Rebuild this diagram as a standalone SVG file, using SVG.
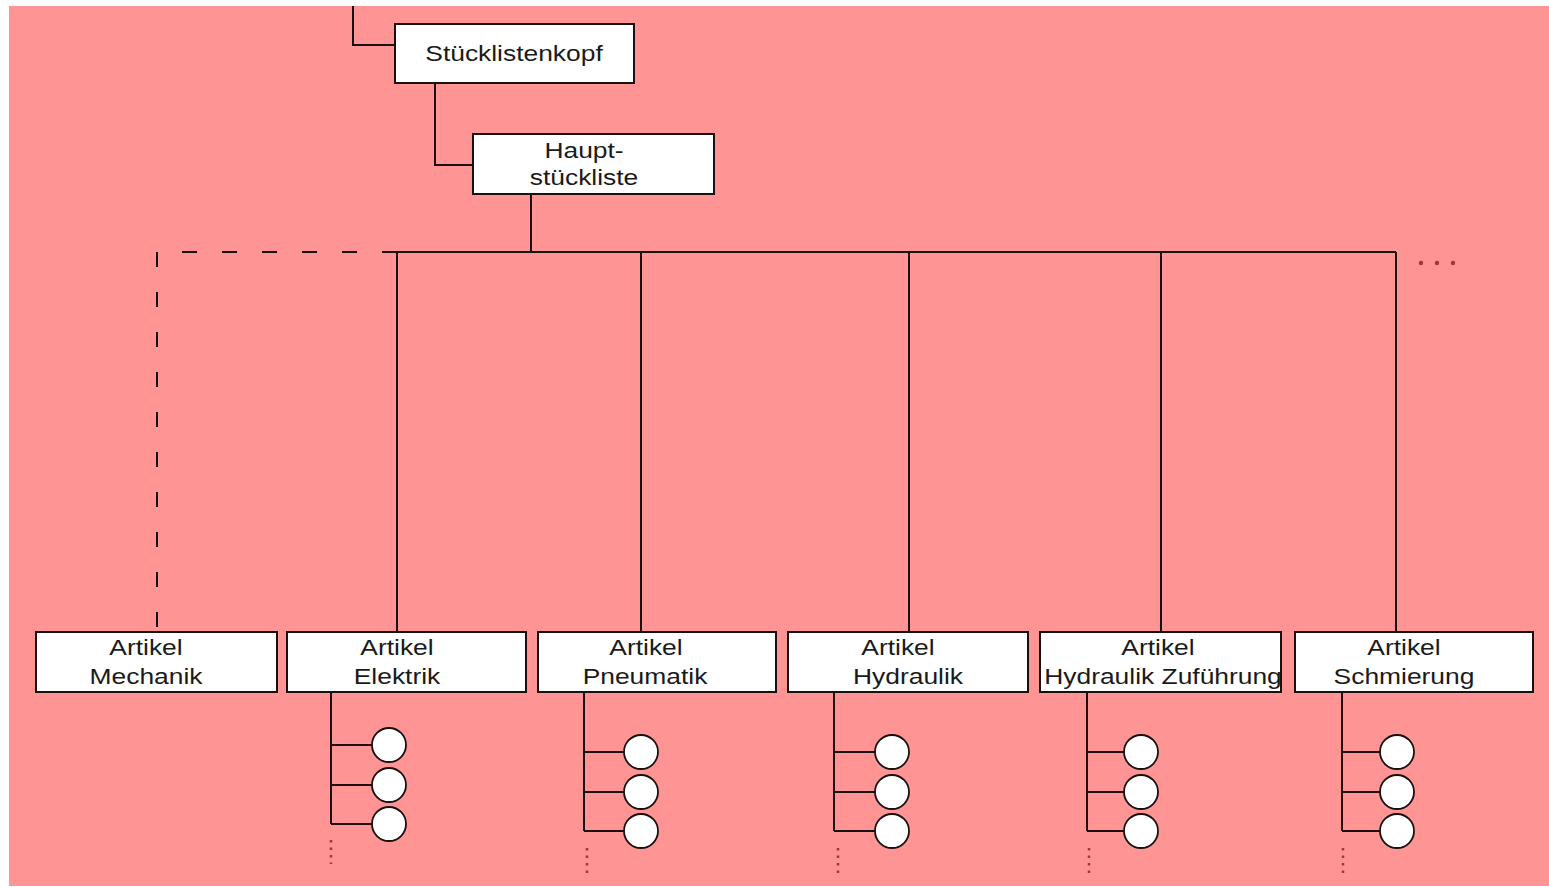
<svg xmlns="http://www.w3.org/2000/svg" width="1549" height="887" viewBox="0 0 1549 887">
<style>
.box{fill:#ffffff;stroke:#1a1010;stroke-width:2}
.ln{fill:none;stroke:#1a1010;stroke-width:2}
.dash{fill:none;stroke:#1a1010;stroke-width:2;stroke-dasharray:15 25}
.dot{fill:none;stroke:#9a3a3a;stroke-width:2.5;stroke-dasharray:2.5 5}
.leaf{fill:#ffffff;stroke:#1a1010;stroke-width:1.8}
.t{font-family:"Liberation Sans",Arial,sans-serif;font-size:22px;fill:#1a1a1a;text-anchor:middle}
</style>
<rect x="0" y="0" width="1549" height="887" fill="#ffffff"/>
<rect x="9" y="6" width="1540" height="880" fill="#ff9494"/>
<g id="connectors">
<path class="ln" d="M353 6 V45 H395"/>
<path class="ln" d="M435 83 V165 H473"/>
<path class="ln" d="M531 194 V252"/>
<path class="ln" d="M397 252 H1396"/>
<path class="dash" d="M397 252 H157 V632"/>
<path class="ln" d="M397 252 V632 M641 252 V632 M909 252 V632 M1161 252 V632 M1396 252 V632"/>
<path class="ln" d="M331 692 V824 M331 745 H372 M331 785 H372 M331 824 H372"/>
<path class="ln" d="M584 692 V831 M584 752 H624 M584 792 H624 M584 831 H624"/>
<path class="ln" d="M834 692 V831 M834 752 H875 M834 792 H875 M834 831 H875"/>
<path class="ln" d="M1087 692 V831 M1087 752 H1124 M1087 792 H1124 M1087 831 H1124"/>
<path class="ln" d="M1342 692 V831 M1342 752 H1380 M1342 792 H1380 M1342 831 H1380"/>
<path class="dot" d="M331 840 V864 M587 848 V874 M838 848 V874 M1089 848 V874 M1343 848 V874"/>
<g fill="#9a3a3a"><circle cx="1421" cy="263" r="2.2"/><circle cx="1437" cy="263" r="2.2"/><circle cx="1453" cy="263" r="2.2"/></g>
</g>
<g id="kopf"><rect class="box" x="395" y="24" width="239" height="59"/><text class="t" transform="translate(514,61) scale(1.2,1)">Stücklistenkopf</text></g>
<g id="haupt"><rect class="box" x="473" y="134" width="241" height="60"/><text class="t" transform="translate(584,158) scale(1.2,1)">Haupt-</text><text class="t" transform="translate(584,185) scale(1.2,1)">stückliste</text></g>
<g id="mechanik"><rect class="box" x="36" y="632" width="241" height="60"/><text class="t" transform="translate(146,655) scale(1.2,1)">Artikel</text><text class="t" transform="translate(146,684) scale(1.2,1)">Mechanik</text></g>
<g id="elektrik"><rect class="box" x="287" y="632" width="239" height="60"/><text class="t" transform="translate(397,655) scale(1.2,1)">Artikel</text><text class="t" transform="translate(397,684) scale(1.2,1)">Elektrik</text></g>
<g id="pneumatik"><rect class="box" x="538" y="632" width="238" height="60"/><text class="t" transform="translate(646,655) scale(1.2,1)">Artikel</text><text class="t" transform="translate(645,684) scale(1.2,1)">Pneumatik</text></g>
<g id="hydraulik"><rect class="box" x="788" y="632" width="240" height="60"/><text class="t" transform="translate(898,655) scale(1.2,1)">Artikel</text><text class="t" transform="translate(908,684) scale(1.2,1)">Hydraulik</text></g>
<g id="zufuehrung"><rect class="box" x="1040" y="632" width="241" height="60"/><text class="t" transform="translate(1158,655) scale(1.2,1)">Artikel</text><text class="t" transform="translate(1163,684) scale(1.2,1)">Hydraulik Zuführung</text></g>
<g id="schmierung"><rect class="box" x="1295" y="632" width="238" height="60"/><text class="t" transform="translate(1404,655) scale(1.2,1)">Artikel</text><text class="t" transform="translate(1404,684) scale(1.2,1)">Schmierung</text></g>
<g id="leaves-elektrik"><circle class="leaf" cx="389" cy="745" r="17"/><circle class="leaf" cx="389" cy="785" r="17"/><circle class="leaf" cx="389" cy="824" r="17"/></g>
<g id="leaves-pneumatik"><circle class="leaf" cx="641" cy="752" r="17"/><circle class="leaf" cx="641" cy="792" r="17"/><circle class="leaf" cx="641" cy="831" r="17"/></g>
<g id="leaves-hydraulik"><circle class="leaf" cx="892" cy="752" r="17"/><circle class="leaf" cx="892" cy="792" r="17"/><circle class="leaf" cx="892" cy="831" r="17"/></g>
<g id="leaves-zufuehrung"><circle class="leaf" cx="1141" cy="752" r="17"/><circle class="leaf" cx="1141" cy="792" r="17"/><circle class="leaf" cx="1141" cy="831" r="17"/></g>
<g id="leaves-schmierung"><circle class="leaf" cx="1397" cy="752" r="17"/><circle class="leaf" cx="1397" cy="792" r="17"/><circle class="leaf" cx="1397" cy="831" r="17"/></g>
</svg>
